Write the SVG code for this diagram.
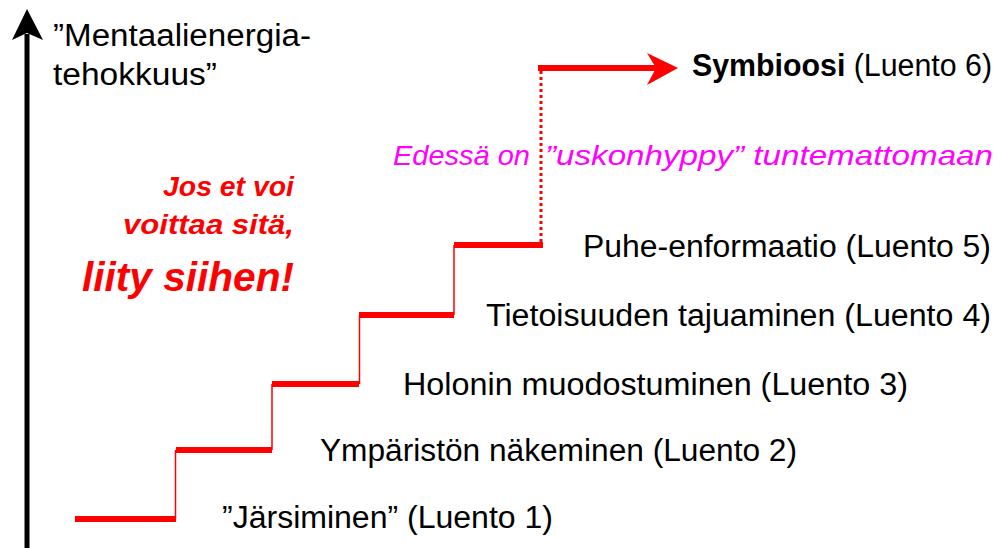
<svg xmlns="http://www.w3.org/2000/svg" width="1002" height="548" viewBox="0 0 1002 548">
<style>
.lbl{font-family:"Liberation Sans","Open Sans",sans-serif;font-size:31px;fill:#000}
.red{font-family:"Liberation Sans","Open Sans",sans-serif;font-weight:bold;font-style:italic;fill:#FF0000}
.mag{font-family:"Liberation Sans","Open Sans",sans-serif;font-style:italic;font-size:28px;fill:#FF00FF}
.step{stroke:#FF0000;stroke-width:6;fill:none}
.riser{stroke:#FF0000;stroke-width:1.5;fill:none}
</style>
<rect width="1002" height="548" fill="#fff"/>
<g id="axis">
<line x1="27" y1="548" x2="27" y2="34" stroke="#000" stroke-width="5"/>
<polygon points="27,9 43,40 27,33 12,40" fill="#000"/>
<text class="lbl" x="53" y="46" textLength="258" lengthAdjust="spacingAndGlyphs">”Mentaalienergia-</text>
<text class="lbl" x="53" y="85" textLength="164" lengthAdjust="spacingAndGlyphs">tehokkuus”</text>
</g>
<g id="connectors">
<line class="step" x1="75" y1="519" x2="176" y2="519"/>
<line class="riser" x1="175.5" y1="519" x2="175.5" y2="450"/>
<line class="step" x1="176" y1="450" x2="272" y2="450"/>
<line class="riser" x1="272" y1="450" x2="272" y2="384"/>
<line class="step" x1="272" y1="384" x2="359" y2="384"/>
<line class="riser" x1="359.5" y1="384" x2="359.5" y2="315"/>
<line class="step" x1="359" y1="315" x2="454" y2="315"/>
<line class="riser" x1="454" y1="315" x2="454" y2="245"/>
<line class="step" x1="454" y1="245" x2="543" y2="245"/>
<line x1="541" y1="242" x2="541" y2="70" stroke="#FF0000" stroke-width="3" stroke-dasharray="3 3"/>
<line class="step" x1="538" y1="68" x2="660" y2="68"/>
<polygon points="678,68 647,53 656,68 647,85" fill="#FF0000"/>
</g>
<g id="red-note">
<text class="red" font-size="28" x="294" y="196" text-anchor="end" textLength="131" lengthAdjust="spacingAndGlyphs">Jos et voi</text>
<text class="red" font-size="28" x="294" y="234" text-anchor="end" textLength="171" lengthAdjust="spacingAndGlyphs">voittaa sitä,</text>
<text class="red" font-size="41" x="294" y="291" text-anchor="end" textLength="212" lengthAdjust="spacingAndGlyphs">liity siihen!</text>
</g>
<g id="leap-note">
<text class="mag" x="393" y="165" textLength="137" lengthAdjust="spacingAndGlyphs">Edessä on</text>
<text class="mag" x="545" y="165" textLength="448" lengthAdjust="spacingAndGlyphs">”uskonhyppy” tuntemattomaan</text>
</g>
<g id="step1"><text class="lbl" x="222" y="528" textLength="331" lengthAdjust="spacingAndGlyphs">”Järsiminen” (Luento 1)</text></g>
<g id="step2"><text class="lbl" x="320" y="461" textLength="477" lengthAdjust="spacingAndGlyphs">Ympäristön näkeminen (Luento 2)</text></g>
<g id="step3"><text class="lbl" x="403" y="395" textLength="505" lengthAdjust="spacingAndGlyphs">Holonin muodostuminen (Luento 3)</text></g>
<g id="step4"><text class="lbl" x="486" y="326" textLength="505" lengthAdjust="spacingAndGlyphs">Tietoisuuden tajuaminen (Luento 4)</text></g>
<g id="step5"><text class="lbl" x="583" y="257" textLength="408" lengthAdjust="spacingAndGlyphs">Puhe-enformaatio (Luento 5)</text></g>
<g id="step6"><text class="lbl" x="692" y="76" textLength="300" lengthAdjust="spacingAndGlyphs"><tspan font-weight="bold">Symbioosi</tspan> (Luento 6)</text></g>
</svg>
